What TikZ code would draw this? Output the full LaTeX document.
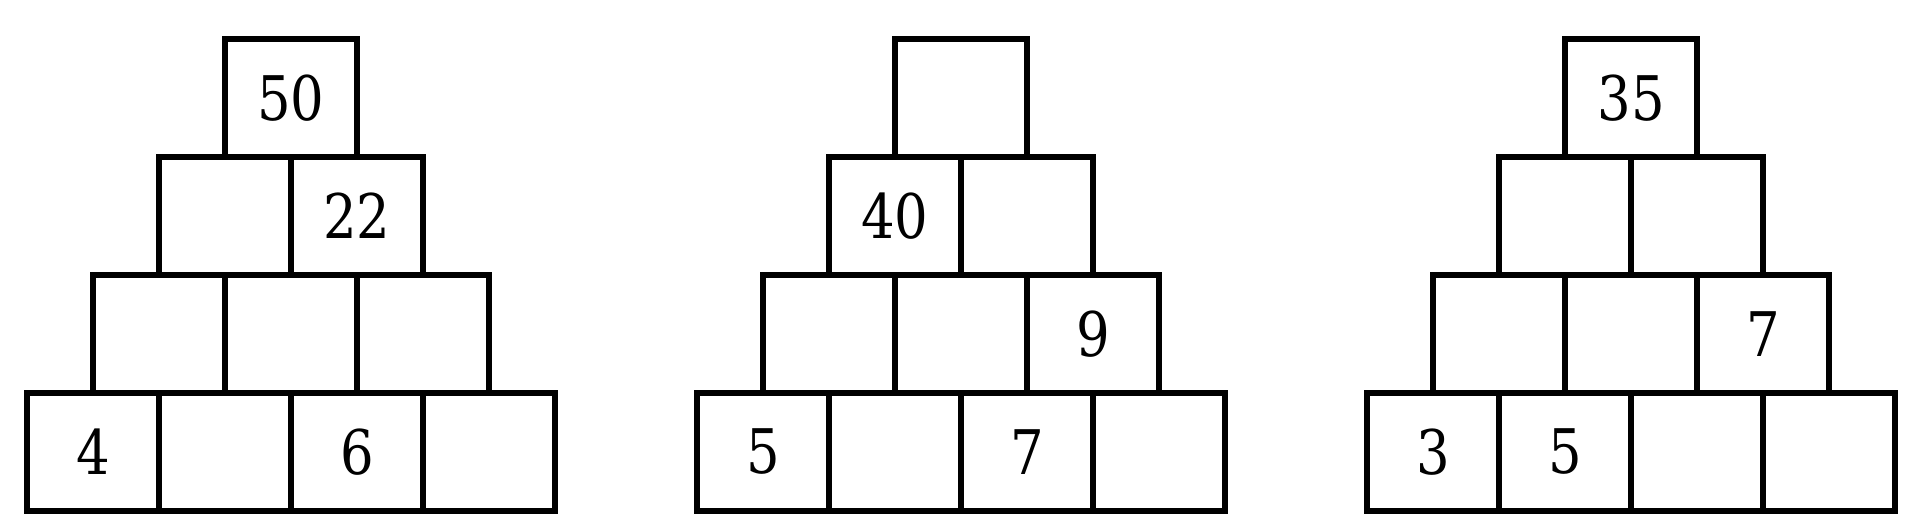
\documentclass[tikz,border=0pt]{standalone}
\usepackage{fontspec}
\setmainfont{DejaVu Serif}[FakeStretch=0.86]
\begin{document}
\begin{tikzpicture}[x=0.1mm,y=-0.1mm,
    cell/.style={draw, line width=1.5pt, minimum width=13.2mm, minimum height=11.8mm, inner sep=0pt},
    num/.style={inner sep=0pt, font=\fontsize{17.5}{20}\selectfont}]

      \useasboundingbox (0,0) rectangle (1920,531);

      % three pyramids of cells: rows 1 (top) to 4 (bottom)
      \foreach \p/\cx in {a/291, b/961, c/1631}
        \foreach \r in {1,...,4}
          \foreach \c in {1,...,\r}
            \node[cell] (\p\r\c) at ({\cx+(\c-(\r+1)/2)*132}, {39+(\r-0.5)*118}) {};

      \node[num] (a11t) at (a11) {50};
      \node[num] (a22t) at (a22) {22};
      \node[num] (a41t) at (a41) {4};
      \node[num] (a43t) at (a43) {6};

      \node[num] (b21t) at (b21) {40};
      \node[num] (b33t) at (b33) {9};
      \node[num] (b41t) at (b41) {5};
      \node[num] (b43t) at (b43) {7};

      \node[num] (c11t) at (c11) {35};
      \node[num] (c33t) at (c33) {7};
      \node[num] (c41t) at (c41) {3};
      \node[num] (c42t) at (c42) {5};

    \end{tikzpicture}
\end{document}
